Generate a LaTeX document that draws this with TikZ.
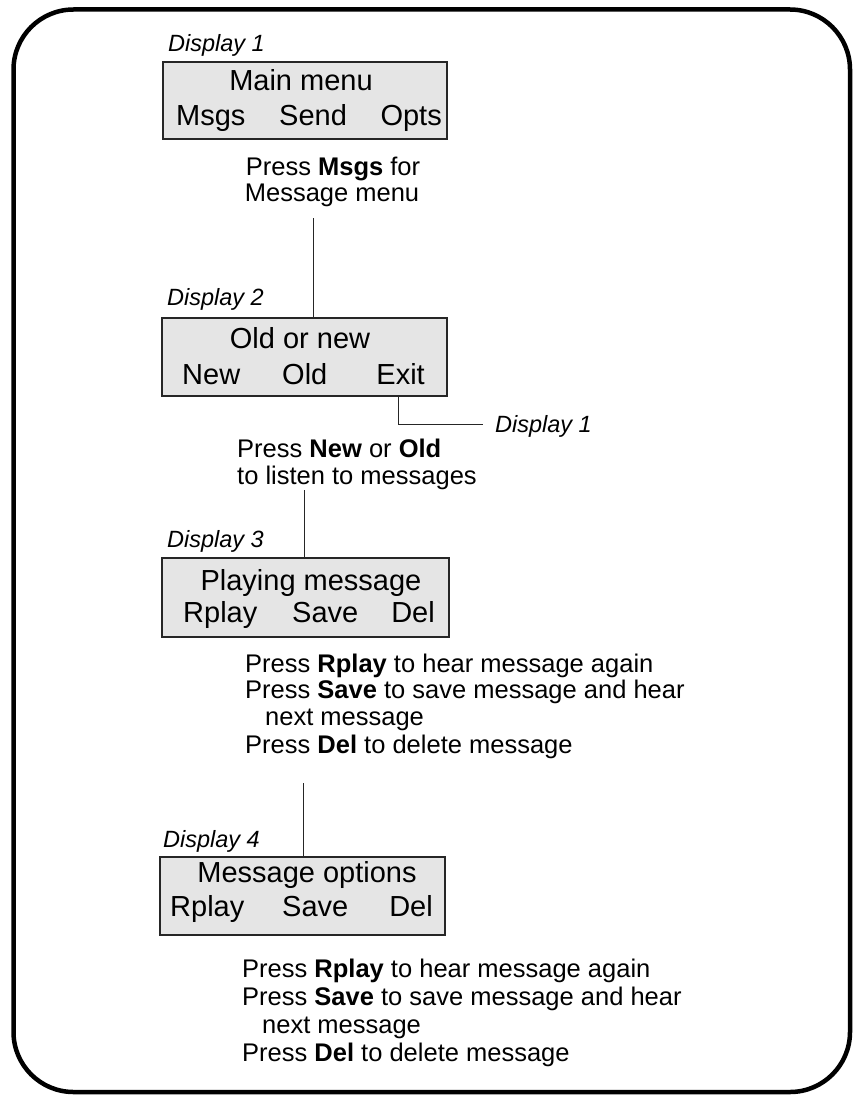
\documentclass[tikz,border=0pt]{standalone}
\usepackage{fontspec}
\setmainfont{Liberation Sans}
\begin{document}
\begin{tikzpicture}[x=1pt,y=-1pt,
  frame/.style={line width=4.5pt, rounded corners=60pt},
  box/.style={draw=black!85, line width=1.2pt, fill=black!10, inner sep=0pt},
  lbl/.style={font=\fontsize{23.5}{27}\selectfont\itshape, inner sep=0pt, anchor=base west},
  btxt/.style={font=\fontsize{29}{33}\selectfont, inner sep=0pt},
  body/.style={font=\fontsize{25.5}{27.5}\selectfont, inner sep=0pt, anchor=base west},
  conn/.style={line width=1pt, black!85}]
\useasboundingbox (0,0) rectangle (862,1097);
\draw[frame] (13.5,9.5) rectangle (850,1092);

% boxes
\node[box, minimum width=284pt, minimum height=77pt] (b1) at (305,100.5) {};
\node[box, minimum width=285pt, minimum height=78pt] (b2) at (304.5,357) {};
\node[box, minimum width=287pt, minimum height=79pt] (b3) at (305.5,597.5) {};
\node[box, minimum width=285pt, minimum height=78pt] (b4) at (302.5,896) {};

% labels
\node[lbl] (l1) at (168,52) {Display 1};
\node[lbl] (l2) at (167,305) {Display 2};
\node[lbl] (l3) at (167,547) {Display 3};
\node[lbl] (l4) at (163,847) {Display 4};

% box texts
\node[btxt, anchor=base] (b1t) at (301,91) {Main menu};
\node[btxt, anchor=base west] (b1a) at (176,125) {Msgs};
\node[btxt, anchor=base west] (b1b) at (279,125) {Send};
\node[btxt, anchor=base east] (b1c) at (442,125) {Opts};

\node[btxt, anchor=base] (b2t) at (300,348) {Old or new};
\node[btxt, anchor=base west] (b2a) at (182,384) {New};
\node[btxt, anchor=base west] (b2b) at (282,384) {Old};
\node[btxt, anchor=base east] (b2c) at (425,384) {Exit};

\node[btxt, anchor=base] (b3t) at (311,590) {Playing message};
\node[btxt, anchor=base west] (b3a) at (183,622) {Rplay};
\node[btxt, anchor=base west] (b3b) at (292,622) {Save};
\node[btxt, anchor=base east] (b3c) at (435,622) {Del};

\node[btxt, anchor=base] (b4t) at (307,882) {Message options};
\node[btxt, anchor=base west] (b4a) at (170,916) {Rplay};
\node[btxt, anchor=base west] (b4b) at (282,916) {Save};
\node[btxt, anchor=base east] (b4c) at (433,916) {Del};

% body texts
\node[body, anchor=base] (t1a) at (333,175) {Press \textbf{Msgs} for};
\node[body, anchor=base] (t1b) at (332,201.5) {Message menu};

\node[body] (t2a) at (237,457) {Press \textbf{New} or \textbf{Old}};
\node[body] (t2b) at (237,484) {to listen to messages};

\node[body] (t3a) at (245,672) {Press \textbf{Rplay} to hear message again};
\node[body] (t3b) at (245,698.5) {Press \textbf{Save} to save message and hear};
\node[body] (t3c) at (265,725.5) {next message};
\node[body] (t3d) at (245,753) {Press \textbf{Del} to delete message};

\node[body] (t4a) at (242,977) {Press \textbf{Rplay} to hear message again};
\node[body] (t4b) at (242,1005) {Press \textbf{Save} to save message and hear};
\node[body] (t4c) at (262,1033) {next message};
\node[body] (t4d) at (242,1061) {Press \textbf{Del} to delete message};

\node[lbl] (ex) at (495,432) {Display 1};

% connectors
\coordinate (c1) at (313,218);
\coordinate (c2) at (304,490);
\coordinate (c3) at (303,783);
\coordinate (c4) at (398,0);
\coordinate (c5) at (483,424);
\draw[conn] (c1) -- (c1 |- b2.north);
\draw[conn] (c2) -- (c2 |- b3.north);
\draw[conn] (c3) -- (c3 |- b4.north);
\draw[conn] (b2.south -| c4) |- (c5);
\end{tikzpicture}
\end{document}
